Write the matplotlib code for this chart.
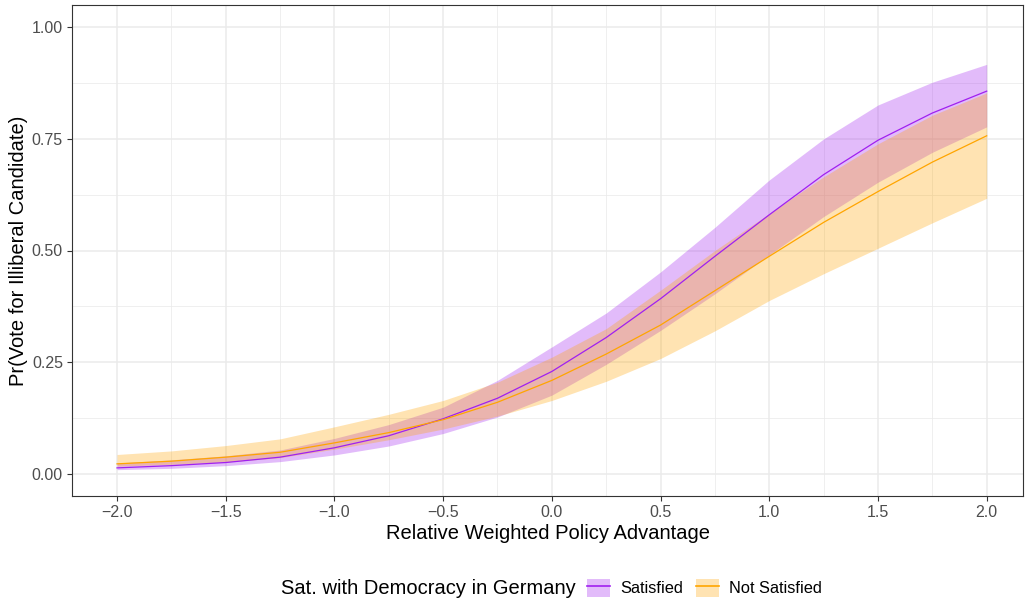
import matplotlib
matplotlib.use("Agg")
import matplotlib.pyplot as plt
from matplotlib.patches import Patch
from matplotlib.lines import Line2D
from matplotlib.ticker import MultipleLocator

plt.rcParams['font.family'] = ['Liberation Sans', 'DejaVu Sans']

# Data
x = [-2.0, -1.75, -1.5, -1.25, -1.0, -0.75, -0.5, -0.25, 0.0,
     0.25, 0.5, 0.75, 1.0, 1.25, 1.5, 1.75, 2.0]

sat_fit = [0.013, 0.018, 0.025, 0.037, 0.058, 0.085, 0.123, 0.169, 0.229,
           0.305, 0.392, 0.487, 0.580, 0.670, 0.747, 0.808, 0.857]
sat_lo = [0.009, 0.012, 0.018, 0.027, 0.042, 0.062, 0.090, 0.127, 0.176,
          0.245, 0.321, 0.403, 0.490, 0.576, 0.653, 0.720, 0.777]
sat_hi = [0.024, 0.031, 0.040, 0.053, 0.079, 0.110, 0.149, 0.209, 0.284,
          0.360, 0.452, 0.552, 0.658, 0.750, 0.826, 0.877, 0.917]

not_fit = [0.022, 0.028, 0.037, 0.048, 0.069, 0.092, 0.121, 0.160, 0.209,
           0.268, 0.333, 0.410, 0.487, 0.563, 0.632, 0.698, 0.757]
not_lo = [0.017, 0.021, 0.026, 0.036, 0.055, 0.076, 0.100, 0.129, 0.164,
          0.207, 0.258, 0.320, 0.388, 0.448, 0.505, 0.562, 0.617]
not_hi = [0.043, 0.051, 0.063, 0.078, 0.105, 0.133, 0.164, 0.205, 0.261,
          0.325, 0.411, 0.500, 0.583, 0.665, 0.739, 0.803, 0.853]

groups = ["Satisfied", "Not Satisfied"]
colors = ["#A020F0", "#FFA500"]

W, H = 1027, 600
fig = plt.figure(figsize=(W / 100, H / 100), dpi=100)
ax = fig.add_axes([72 / W, 1 - 496 / H, (1023 - 72) / W, (496 - 5) / H])

series = [(sat_fit, sat_lo, sat_hi), (not_fit, not_lo, not_hi)]
handles = []
for (fit, lo, hi), col in zip(series, colors):
    ax.fill_between(x, lo, hi, color=col, alpha=0.3, linewidth=0, zorder=2)
for (fit, lo, hi), col in zip(series, colors):
    ax.plot(x, fit, color=col, lw=0.9, zorder=3)
    handles.append((Patch(facecolor=col, alpha=0.3, edgecolor='none'),
                    Line2D([], [], color=col, lw=1.2)))

ax.set_xlim(-2.207, 2.167)
ax.set_ylim(-0.05, 1.05)
ax.xaxis.set_minor_locator(MultipleLocator(0.25))
ax.yaxis.set_minor_locator(MultipleLocator(0.125))
ax.set_xticks([-2, -1.5, -1, -0.5, 0, 0.5, 1, 1.5, 2])
ax.set_xticklabels(["\u22122.0", "\u22121.5", "\u22121.0", "\u22120.5", "0.0",
                    "0.5", "1.0", "1.5", "2.0"])
ax.set_yticks([0, 0.25, 0.5, 0.75, 1.0])
ax.set_yticklabels(["0.00", "0.25", "0.50", "0.75", "1.00"])

ax.grid(which='major', color='#EBEBEB', lw=1.1, zorder=0)
ax.grid(which='minor', color='#EBEBEB', lw=0.55, zorder=0)
ax.set_axisbelow(True)
ax.tick_params(which='major', length=3.5, width=0.8, color='#333333',
               labelcolor='#4D4D4D', labelsize=11.5, pad=3)
ax.tick_params(which='minor', length=0)
for s in ax.spines.values():
    s.set_color('#333333')
    s.set_linewidth(0.8)

ax.set_xlabel("Relative Weighted Policy Advantage", fontsize=14.5, color='black', labelpad=3)
ax.set_ylabel("Pr(Vote for Illiberal Candidate)", fontsize=14.5, color='black', labelpad=3)

fig.text(281 / W, 1 - 588 / H, "Sat. with Democracy in Germany", fontsize=14.5,
         ha='left', va='center')
fig.legend(handles=handles, labels=groups, loc='center left',
           bbox_to_anchor=(587 / W, 1 - 588 / H), ncol=2, frameon=False,
           fontsize=11.8, handlelength=1.4, handleheight=1.4, handletextpad=0.65,
           columnspacing=0.75, borderaxespad=0, borderpad=0)

fig.savefig("out.png", dpi=100)
